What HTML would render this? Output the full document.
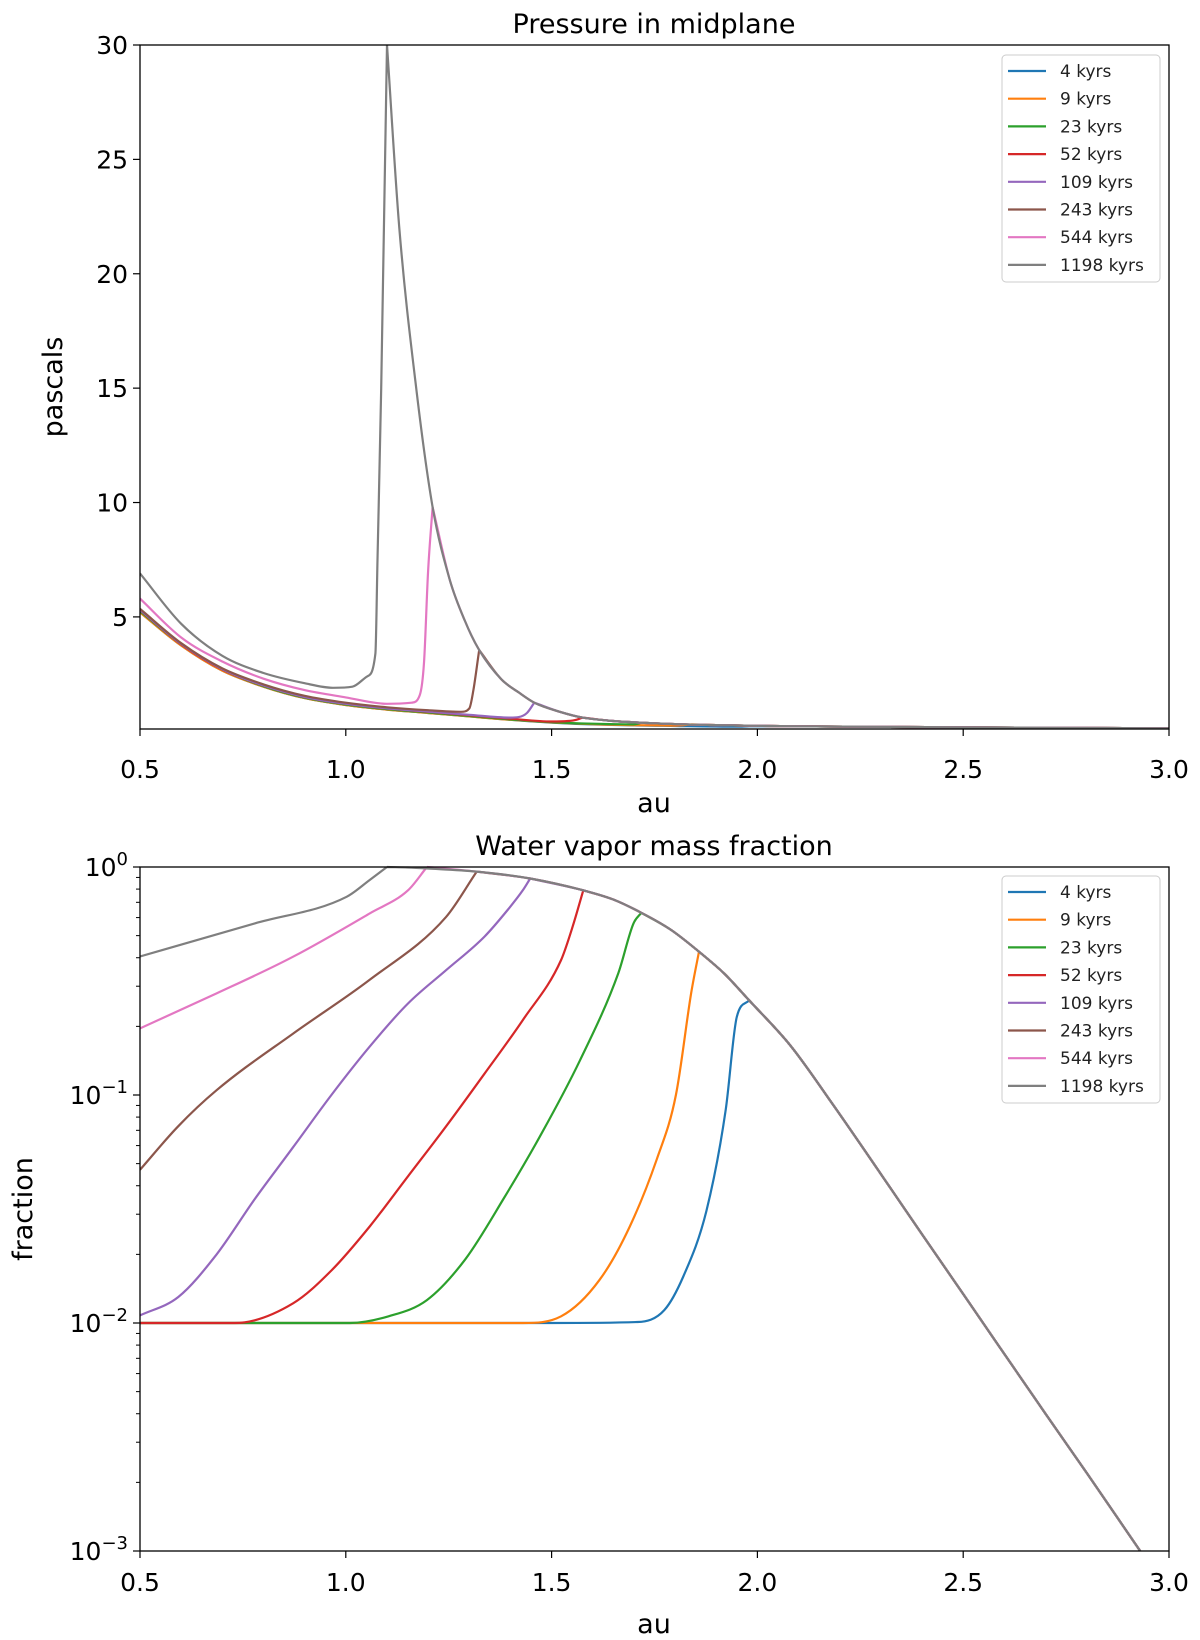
<!DOCTYPE html>
<html><head><meta charset="utf-8"><style>
html,body{margin:0;padding:0;background:#fff;}
svg{display:block;font-family:"DejaVu Sans","Liberation Sans",sans-serif;}
</style></head><body>
<svg id="fig" width="1200" height="1640" viewBox="0 0 1200 1640" xmlns="http://www.w3.org/2000/svg">
<rect width="1200" height="1640" fill="#fff"/>
<g id="top"></g>
<g id="bot"></g>
</svg>
<script>
const seriesLabels = ["4 kyrs","9 kyrs","23 kyrs","52 kyrs","109 kyrs","243 kyrs","544 kyrs","1198 kyrs"];
const seriesColors = ["#1f77b4","#ff7f0e","#2ca02c","#d62728","#9467bd","#8c564b","#e377c2","#7f7f7f"];
const xTicks = [0.5,1.0,1.5,2.0,2.5,3.0];
const xTickLabels = ["0.5","1.0","1.5","2.0","2.5","3.0"];
const pTicks = [5,10,15,20,25,30];
const pTickLabels = ["5","10","15","20","25","30"];
const fTickExps = [0,-1,-2,-3];

// Pressure: shared outer envelope
const pEnvX = [1.10,1.13,1.169,1.211,1.253,1.29,1.324,1.379,1.42,1.458,1.52,1.575,1.65,1.75,1.9,2.1,2.5,3.0];
const pEnvY = [30,22,15.3,9.8,6.6,4.8,3.55,2.25,1.7,1.25,0.85,0.6,0.45,0.35,0.27,0.22,0.17,0.13];
// Pressure: inner parts per series
const pInX = [
 [0.5,0.6,0.7,0.8,0.9,1.0,1.1,1.2,1.3,1.4,1.5,1.6,1.8,1.95,1.98],
 [0.5,0.6,0.7,0.8,0.9,1.0,1.1,1.2,1.3,1.4,1.5,1.6,1.8,1.84],
 [0.5,0.6,0.7,0.8,0.9,1.0,1.1,1.2,1.3,1.4,1.5,1.6,1.70,1.72],
 [0.5,0.6,0.7,0.8,0.9,1.0,1.1,1.2,1.3,1.4,1.5,1.54,1.56,1.575],
 [0.5,0.6,0.7,0.8,0.9,1.0,1.1,1.2,1.3,1.4,1.42,1.44,1.458],
 [0.5,0.6,0.7,0.8,0.9,1.0,1.1,1.2,1.28,1.30,1.31,1.324],
 [0.5,0.6,0.7,0.8,0.9,1.0,1.1,1.16,1.18,1.19,1.2,1.211],
 [0.5,0.6,0.7,0.8,0.9,0.969,1.016,1.052,1.072,1.077,1.086,1.10]
];
const pInY = [
 [5.2,3.75,2.65,1.95,1.45,1.15,0.95,0.8,0.65,0.5,0.38,0.3,0.23,0.2,0.22],
 [5.2,3.75,2.65,1.95,1.45,1.15,0.95,0.8,0.65,0.5,0.39,0.31,0.25,0.3],
 [5.25,3.8,2.7,1.97,1.47,1.17,0.97,0.82,0.67,0.52,0.4,0.33,0.3,0.38],
 [5.3,3.8,2.7,2.0,1.5,1.2,1.0,0.85,0.7,0.55,0.43,0.45,0.5,0.6],
 [5.3,3.82,2.72,2.0,1.5,1.2,1.0,0.86,0.72,0.6,0.62,0.8,1.25],
 [5.35,3.85,2.75,2.05,1.55,1.25,1.05,0.92,0.85,1.0,1.8,3.55],
 [5.8,4.1,3.05,2.3,1.8,1.48,1.2,1.25,1.6,3.0,7.0,9.8],
 [6.9,4.7,3.3,2.55,2.1,1.9,1.95,2.4,3.4,7.5,15,30]
];
// Water vapor: shared envelope
const fEnvX = [1.10,1.15,1.2,1.318,1.448,1.577,1.65,1.718,1.79,1.858,1.92,1.98,2.08,2.176,2.3,2.4,2.5,2.577,2.7,2.8,2.93];
const fEnvY = [1.0,0.995,0.985,0.955,0.89,0.79,0.72,0.63,0.53,0.425,0.34,0.26,0.165,0.095,0.045,0.0245,0.0134,0.0084,0.004,0.0022,0.001];
const fInX = [
 [0.5,1.0,1.5,1.709,1.774,1.82,1.876,1.923,1.95,1.98],
 [0.5,1.0,1.43,1.523,1.616,1.69,1.755,1.802,1.839,1.858],
 [0.5,1.01,1.104,1.197,1.29,1.383,1.476,1.569,1.662,1.699,1.718],
 [0.5,0.73,0.872,0.965,1.058,1.151,1.244,1.337,1.43,1.523,1.551,1.577],
 [0.5,0.593,0.686,0.779,0.872,0.965,1.058,1.151,1.244,1.337,1.393,1.43,1.448],
 [0.5,0.593,0.686,0.872,1.058,1.244,1.318],
 [0.5,0.686,0.872,1.058,1.151,1.197],
 [0.5,0.779,1.002,1.058,1.10]
];
const fInY = [
 [0.01,0.01,0.01,0.0101,0.0114,0.016,0.031,0.086,0.22,0.26],
 [0.01,0.01,0.01,0.0107,0.0154,0.0265,0.052,0.10,0.279,0.425],
 [0.01,0.01,0.0107,0.0126,0.019,0.035,0.068,0.142,0.342,0.566,0.63],
 [0.01,0.01,0.0122,0.017,0.0265,0.044,0.073,0.124,0.213,0.391,0.547,0.79],
 [0.0108,0.013,0.02,0.035,0.059,0.10,0.163,0.252,0.353,0.495,0.648,0.79,0.89],
 [0.047,0.073,0.105,0.186,0.32,0.605,0.955],
 [0.196,0.279,0.404,0.626,0.79,1.0],
 [0.405,0.566,0.74,0.877,1.0]
];

const NS="http://www.w3.org/2000/svg";
function mk(parent,tag,attrs,text){const e=document.createElementNS(NS,tag);for(const k in attrs)e.setAttribute(k,attrs[k]);if(text!==undefined)e.textContent=text;parent.appendChild(e);return e;}
const L=140,R=1169;
const xs=v=>L+(v-0.5)/2.5*(R-L);

function drawAxes(g,T,B,title,titleY,ylab,ylabX,xlabY,xtickY){
  const t=mk(g,'text',{x:654,y:titleY,'font-size':27,'text-anchor':'middle',fill:'#000'},title);
  
  
  const yl=mk(g,'text',{x:0,y:0,'font-size':27,'text-anchor':'middle',fill:'#000',transform:`translate(${ylabX},${(T+B)/2}) rotate(-90)`},ylab);
  
  
  const xl=mk(g,'text',{x:654,y:xlabY,'font-size':27,'text-anchor':'middle',fill:'#000'},'au');
  
  
  xTicks.forEach((v,i)=>{
    const x=xs(v);
    mk(g,'line',{x1:x,x2:x,y1:B,y2:B+7,stroke:'#000','stroke-width':1.2});
    const tl=mk(g,'text',{x:x,y:xtickY,'font-size':25,'text-anchor':'middle',fill:'#000'},xTickLabels[i]);
    
    
  });
}
function drawFrame(g,T,B){
  const f=mk(g,'rect',{x:L,y:T,width:R-L,height:B-T,fill:'none',stroke:'#000','stroke-width':1.3});
  
  
}
function drawLegend(g,top){
  const lg=mk(g,'g',{});
  
  
  mk(lg,'rect',{x:1002,y:top,width:158,height:227,rx:4,fill:'#fff','fill-opacity':0.85,stroke:'#ccc','stroke-width':1});
  seriesLabels.forEach((s,i)=>{
    const y=top+16+i*27.7;
    const e=mk(lg,'g',{});
    
    
    mk(e,'line',{x1:1008,x2:1046,y1:y,y2:y,stroke:seriesColors[i],'stroke-width':2.2});
    mk(e,'text',{x:1060,y:y+6,'font-size':17,fill:'#222'},s);
  });
}
// monotone cubic (Fritsch-Carlson) path in pixel space
function spline(xsArr,ysArr,yf){
  const P=xsArr.map((v,i)=>[xs(v),yf(ysArr[i])]);
  const n=P.length;
  if(n<3) return P.map((p,i)=>(i?'L':'M')+p[0].toFixed(1)+','+p[1].toFixed(1)).join(' ');
  const d=[],m=[];
  for(let i=0;i<n-1;i++){const dx=P[i+1][0]-P[i][0];d.push(dx>0?(P[i+1][1]-P[i][1])/dx:0);}
  m[0]=d[0];m[n-1]=d[n-2];
  for(let i=1;i<n-1;i++){m[i]=(d[i-1]*d[i]<=0)?0:(d[i-1]+d[i])/2;}
  for(let i=0;i<n-1;i++){
    if(d[i]===0){m[i]=0;m[i+1]=0;continue;}
    const a=m[i]/d[i],b=m[i+1]/d[i],s=a*a+b*b;
    if(s>9){const t=3/Math.sqrt(s);m[i]=t*a*d[i];m[i+1]=t*b*d[i];}
  }
  let s='M'+P[0][0].toFixed(1)+','+P[0][1].toFixed(1);
  for(let i=0;i<n-1;i++){
    const h=(P[i+1][0]-P[i][0])/3;
    s+=' C'+(P[i][0]+h).toFixed(1)+','+(P[i][1]+m[i]*h).toFixed(1)+' '+(P[i+1][0]-h).toFixed(1)+','+(P[i+1][1]-m[i+1]*h).toFixed(1)+' '+P[i+1][0].toFixed(1)+','+P[i+1][1].toFixed(1);
  }
  return s;
}
// inner part and envelope part as separate smooth pieces joined at a sharp corner
function seriesPath(inX,inY,envX,envY,yf){
  const lx=inX[inX.length-1], ly=inY[inY.length-1];
  const ex=[lx],ey=[ly];
  envX.forEach((v,j)=>{if(v>lx+0.005){ex.push(v);ey.push(envY[j]);}});
  return spline(inX,inY,yf)+' '+spline(ex,ey,yf);
}

// ---- TOP ----
(function(){
  const g=document.getElementById('top');
  const T=45,B=729,ymin=0.1,ymax=30;
  const ys=v=>B-(v-ymin)/(ymax-ymin)*(B-T);
  drawAxes(g,T,B,'Pressure in midplane',33,'pascals',62,812,778);
  pTicks.forEach((v,i)=>{
    const y=ys(v);
    mk(g,'line',{x1:L-7,x2:L,y1:y,y2:y,stroke:'#000','stroke-width':1.2});
    const tl=mk(g,'text',{x:L-12,y:y+9,'font-size':25,'text-anchor':'end',fill:'#000'},pTickLabels[i]);
    
    
  });
  const cp=mk(g,'clipPath',{id:'c1'});
  mk(cp,'rect',{x:L,y:T,width:R-L,height:B-T});
  const lines=mk(g,'g',{'clip-path':'url(#c1)'});
  for(let i=0;i<8;i++){
    const p=mk(lines,'path',{d:seriesPath(pInX[i],pInY[i],pEnvX,pEnvY,ys),fill:'none',stroke:seriesColors[i],'stroke-width':2.2,'stroke-linejoin':'round'});
    
    
  }
  drawFrame(g,T,B);
  drawLegend(g,55);
})();

// ---- BOTTOM ----
(function(){
  const g=document.getElementById('bot');
  const T=867,B=1551;
  const ys=v=>T+(-Math.log10(v))/3*(B-T);
  drawAxes(g,T,B,'Water vapor mass fraction',855,'fraction',32,1633,1591);
  fTickExps.forEach(e=>{
    const y=ys(Math.pow(10,e));
    mk(g,'line',{x1:L-7,x2:L,y1:y,y2:y,stroke:'#000','stroke-width':1.2});
    const tl=mk(g,'text',{x:L-12,y:y+9,'font-size':25,'text-anchor':'end',fill:'#000'});
    
    
    mk(tl,'tspan',{},'10');
    mk(tl,'tspan',{dy:-11,'font-size':18},e===0?'0':'\u2212'+String(-e));
    if(e>-3){for(let m=2;m<10;m++){const yy=ys(m*Math.pow(10,e-1));mk(g,'line',{x1:L-4,x2:L,y1:yy,y2:yy,stroke:'#000','stroke-width':1});}}
  });
  const cp=mk(g,'clipPath',{id:'c2'});
  mk(cp,'rect',{x:L,y:T-2,width:R-L,height:B-T+2});
  const lines=mk(g,'g',{'clip-path':'url(#c2)'});
  for(let i=0;i<8;i++){
    const p=mk(lines,'path',{d:seriesPath(fInX[i],fInY[i],fEnvX,fEnvY,ys),fill:'none',stroke:seriesColors[i],'stroke-width':2.2,'stroke-linejoin':'round'});
    
    
  }
  drawFrame(g,T,B);
  drawLegend(g,876);
})();
</script>
</body></html>
